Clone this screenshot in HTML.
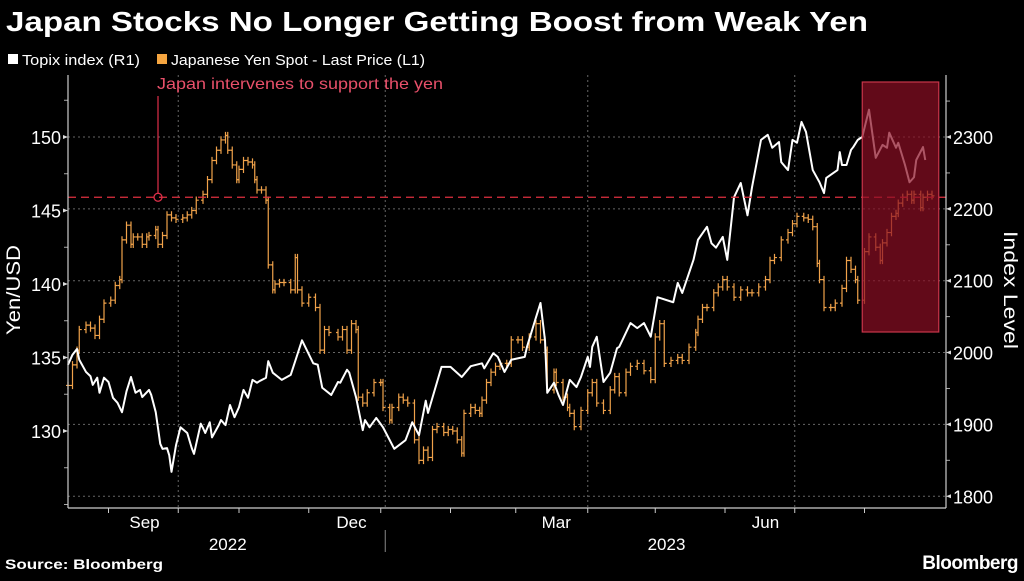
<!DOCTYPE html>
<html><head><meta charset="utf-8"><style>
html,body{margin:0;padding:0;background:#000;}
body{width:1024px;height:576px;overflow:hidden;font-family:"Liberation Sans",sans-serif;}
svg text{font-family:"Liberation Sans",sans-serif;}
</style></head><body>
<svg id="c" width="1024" height="576" viewBox="0 0 1024 576">
<rect width="1024" height="576" fill="#000"/>
<text x="6" y="31" fill="#fff" font-size="28" font-weight="bold" textLength="862" lengthAdjust="spacingAndGlyphs">Japan Stocks No Longer Getting Boost from Weak Yen</text>
<g>
<rect x="8" y="54" width="10" height="10" fill="#fff"/>
<text x="22" y="65" fill="#fff" font-size="15" textLength="118" lengthAdjust="spacingAndGlyphs">Topix index (R1)</text>
<rect x="157" y="54" width="10" height="10" fill="#f5a540"/>
<text x="171" y="65" fill="#fff" font-size="15" textLength="254" lengthAdjust="spacingAndGlyphs">Japanese Yen Spot - Last Price (L1)</text>
</g>
<g id="grid"></g>
<g id="yen"></g>
<g id="topix"></g>
<g id="ann"></g>
<g id="axes"></g>
<text transform="translate(20,290) rotate(-90)" text-anchor="middle" fill="#fff" font-size="19" textLength="90" lengthAdjust="spacingAndGlyphs">Yen/USD</text>
<text transform="translate(1004,290) rotate(90)" text-anchor="middle" fill="#fff" font-size="19" textLength="118" lengthAdjust="spacingAndGlyphs">Index Level</text>
<text x="5" y="569" fill="#fff" font-size="14" font-weight="bold" textLength="158" lengthAdjust="spacingAndGlyphs">Source: Bloomberg</text>
<text x="1018" y="569" text-anchor="end" fill="#fff" font-size="19" font-weight="bold" letter-spacing="-0.5">Bloomberg</text>
</svg>
<script>
const topixDays=[0,2,4,5,8,10,11,13,14,16,18,20,22,24,26,28,30,32,33,36,37,39,41,42,44,45,46,48,50,53,55,56,59,60,61,63,64,67,68,70,72,74,76,78,80,82,84,85,88,89,91,95,99,104,109,111,113,117,120,121,124,125,128,131,132,134,137,140,145,150,153,156,159,160,166,170,175,179,184,185,189,191,194,197,203,204,208,210,212,213,216,218,220,223,226,228,231,232,233,235,238,241,244,245,250,253,256,259,262,269,271,273,278,280,282,284,286,288,291,293,296,299,302,304,308,311,313,316,317,320,322,324,326,328,331,334,336,337,342,343,344,346,348,349,351,353,356,359,362,364,365,368,369,372,374,376,377,380,381];
const topixValues=[1983,1997,2005,1990,1973,1967,1955,1965,1944,1965,1959,1937,1930,1917,1946,1966,1944,1948,1938,1948,1941,1917,1873,1866,1867,1857,1834,1871,1896,1888,1867,1859,1901,1895,1888,1903,1882,1899,1906,1899,1927,1910,1924,1948,1937,1962,1958,1960,1965,1988,1972,1962,1969,2017,1985,1983,1951,1941,1959,1958,1976,1972,1938,1892,1906,1896,1909,1896,1866,1878,1903,1885,1933,1916,1980,1980,1966,1981,1985,1978,1999,1994,1973,1990,1994,2008,2049,2069,2017,1944,1958,1941,1927,1962,1952,1966,1994,1980,2008,2022,1959,1972,2006,2008,2041,2034,2041,2022,2077,2070,2097,2083,2129,2157,2166,2175,2152,2146,2161,2129,2216,2236,2191,2230,2296,2303,2285,2293,2265,2254,2296,2292,2321,2307,2254,2237,2222,2243,2254,2279,2261,2261,2282,2286,2296,2300,2338,2271,2289,2285,2306,2285,2292,2261,2237,2244,2268,2286,2268];
const yenDays=[0,2,4,5,8,10,12,14,16,19,21,23,24,26,28,29,31,33,35,36,39,40,42,44,46,48,51,53,55,57,60,62,64,66,68,70,71,73,75,76,78,80,82,83,84,86,88,89,91,92,94,96,99,101,102,104,107,110,112,114,116,120,122,124,126,128,129,131,133,136,139,140,143,144,147,149,151,154,156,158,160,162,164,167,169,171,173,175,176,179,181,183,184,186,188,190,192,195,197,200,202,205,208,210,212,213,216,217,220,222,223,225,228,231,233,235,238,241,243,245,248,250,253,256,259,261,263,265,268,271,273,276,279,280,282,284,287,289,291,293,296,299,302,304,307,310,312,314,317,320,322,324,327,329,331,333,334,336,339,341,344,346,348,350,351,354,356,359,361,362,364,366,368,369,371,373,375,376,379,380,382,384];
const yenValues=[133.1,134.5,135.5,136.9,137.2,137.0,136.5,137.6,138.7,138.9,139.9,140.3,143.0,144.0,142.7,143.2,143.2,142.7,143.2,143.3,143.7,142.7,143.3,144.7,144.5,144.4,144.5,144.7,145.0,145.7,146.1,147.1,148.4,149.1,149.8,150.1,149.1,148.1,147.1,147.8,148.4,148.3,148.1,147.1,146.4,146.4,145.7,141.3,139.6,140.0,140.1,140.1,139.6,141.8,139.6,138.7,139.1,138.4,135.5,136.9,136.7,136.4,136.9,135.5,137.3,136.9,132.3,131.9,132.6,133.3,133.3,131.6,130.75,131.6,132.3,132.1,131.9,129.4,128.0,128.7,128.2,130.1,130.3,129.9,130.1,130.0,129.4,128.5,131.2,131.6,131.4,131.2,132.1,133.3,134.0,134.4,134.6,134.6,136.2,136.2,135.7,136.4,137.3,136.2,135.5,132.8,134.0,133.3,132.3,131.6,131.2,130.3,131.4,132.6,133.3,131.9,131.4,132.8,133.7,132.6,134.0,134.4,134.6,134.1,133.5,136.4,137.3,134.6,134.8,135.0,134.8,135.7,136.7,137.6,138.4,138.4,139.4,139.8,140.3,139.8,139.1,139.6,139.4,139.4,139.8,140.3,141.6,141.8,143.0,143.5,144.1,144.6,144.5,144.4,143.9,141.4,140.3,138.4,138.4,138.7,139.7,141.6,141.0,140.3,138.9,142.2,143.2,142.5,141.6,142.8,143.5,144.6,144.8,145.5,145.9,146.1,145.7,146.1,145.2,145.9,146.1,146.0];
const leftTicks=[130,135,140,145,150];
const rightTicks=[1800,1900,2000,2100,2200,2300];
const monthLabels=["Sep","Dec","Mar","Jun"];
const monthLabelDays=[34,126,217,310];
const monthTickDays=[18,49,76,107,139,170,199,231,261,292,323,354];
const quarterDays=[49,141,231,323];
const yearLabels=["2022","2023"];
const yearLabelDays=[71,266];
const interventionDay=40, interventionLevel=145.9;
const highlightStartDay=353, highlightEndDay=387;

const X0=68, X1=946, YB=508;
const xS=d=>68+d*2.25;
const yL=v=>137+(150-v)*14.7;
const yR=v=>137+(2300-v)*0.7185;
const NS='http://www.w3.org/2000/svg';
function mk(p,tag,at){const e=document.createElementNS(NS,tag);for(const k in at)e.setAttribute(k,at[k]);p.appendChild(e);return e;}
const grid=document.getElementById('grid'),axes=document.getElementById('axes'),yen=document.getElementById('yen'),tp=document.getElementById('topix'),ann=document.getElementById('ann');

rightTicks.forEach(v=>{
 const g=mk(grid,'line',{x1:X0,x2:X1,y1:yR(v),y2:yR(v),stroke:'#666','stroke-width':1,'stroke-dasharray':'2,3'});
 
 
 const t=mk(axes,'text',{x:953,y:yR(v)+7,fill:'#fff','font-size':18});t.textContent=v;
 
 
 const m=mk(axes,'path',{d:`M${X1},${yR(v)} l5,-2 v4 z`,fill:'#ddd'});
 
 
 const mn=mk(axes,'line',{x1:X1,x2:X1+4,y1:yR(v+50),y2:yR(v+50),stroke:'#aaa'});
 
 
});
quarterDays.forEach(d=>{
 const g=mk(grid,'line',{x1:xS(d),x2:xS(d),y1:75,y2:YB,stroke:'#666','stroke-width':1,'stroke-dasharray':'2,3'});
 
 
});
leftTicks.forEach(v=>{
 const t=mk(axes,'text',{x:61,y:yL(v)+7,fill:'#fff','font-size':18,'text-anchor':'end'});t.textContent=v;
 
 
 const m=mk(axes,'path',{d:`M${X0},${yL(v)} l-5,-2 v4 z`,fill:'#ddd'});
 
 
});
[127.5,132.5,137.5,142.5,147.5,152.5,125].forEach(v=>{
 const m=mk(axes,'line',{x1:X0-4,x2:X0,y1:yL(v),y2:yL(v),stroke:'#aaa'});
 
 
});
[[X0,75,X0,YB],[X1,75,X1,YB],[X0,YB,X1,YB]].forEach(a=>{
 const l=mk(axes,'line',{x1:a[0],y1:a[1],x2:a[2],y2:a[3],stroke:'#ccc','stroke-width':1.2});
 
 
});
monthTickDays.forEach(d=>{
 const l=mk(axes,'line',{x1:xS(d),x2:xS(d),y1:YB,y2:YB+5,stroke:'#ccc'});
 
 
});
monthLabels.forEach((s,i)=>{
 const t=mk(axes,'text',{x:xS(monthLabelDays[i]),y:528,fill:'#fff','font-size':17,'text-anchor':'middle'});t.textContent=s;
 
 
});
yearLabels.forEach((s,i)=>{
 const t=mk(axes,'text',{x:xS(yearLabelDays[i]),y:550,fill:'#fff','font-size':17,'text-anchor':'middle'});t.textContent=s;
 
 
});
const sep=mk(axes,'line',{x1:xS(141),x2:xS(141),y1:530,y2:552,stroke:'#888'});



yenValues.forEach((v,i)=>{
 const p=i>0?yenValues[i-1]:v;const x=xS(yenDays[i]);
 const hi=Math.max(v,p)+0.25,lo=Math.min(v,p)-0.25;
 const b=mk(yen,'path',{d:`M${x},${yL(hi)} V${yL(lo)} M${x-2},${yL(p)} h2 M${x},${yL(v)} h2.5`,stroke:'#f0a24a','stroke-width':1.2,fill:'none'});
 
 
});
const tl=mk(tp,'polyline',{points:topixValues.map((v,i)=>xS(topixDays[i])+','+yR(v)).join(' '),fill:'none',stroke:'#fff','stroke-width':2,'stroke-linejoin':'round'});



const hl=mk(ann,'line',{x1:X0,x2:X1,y1:yL(interventionLevel),y2:yL(interventionLevel),stroke:'#e0303f','stroke-width':1.3,'stroke-dasharray':'8,5'});


const vl=mk(ann,'line',{x1:xS(interventionDay),x2:xS(interventionDay),y1:96,y2:yL(interventionLevel)-4,stroke:'#e0304a','stroke-width':1.2});


const ci=mk(ann,'circle',{cx:xS(interventionDay),cy:yL(interventionLevel),r:4,fill:'none',stroke:'#e0304a','stroke-width':1.3});


const at=mk(ann,'text',{x:xS(interventionDay)-1,y:89,fill:'#e8506a','font-size':16,textLength:286,lengthAdjust:'spacingAndGlyphs'});at.textContent='Japan intervenes to support the yen';


const hr=mk(ann,'rect',{x:xS(highlightStartDay),y:82,width:xS(highlightEndDay)-xS(highlightStartDay),height:250,fill:'rgba(140,14,36,0.7)',stroke:'#c8354a','stroke-width':1.2});


</script>
</body></html>
